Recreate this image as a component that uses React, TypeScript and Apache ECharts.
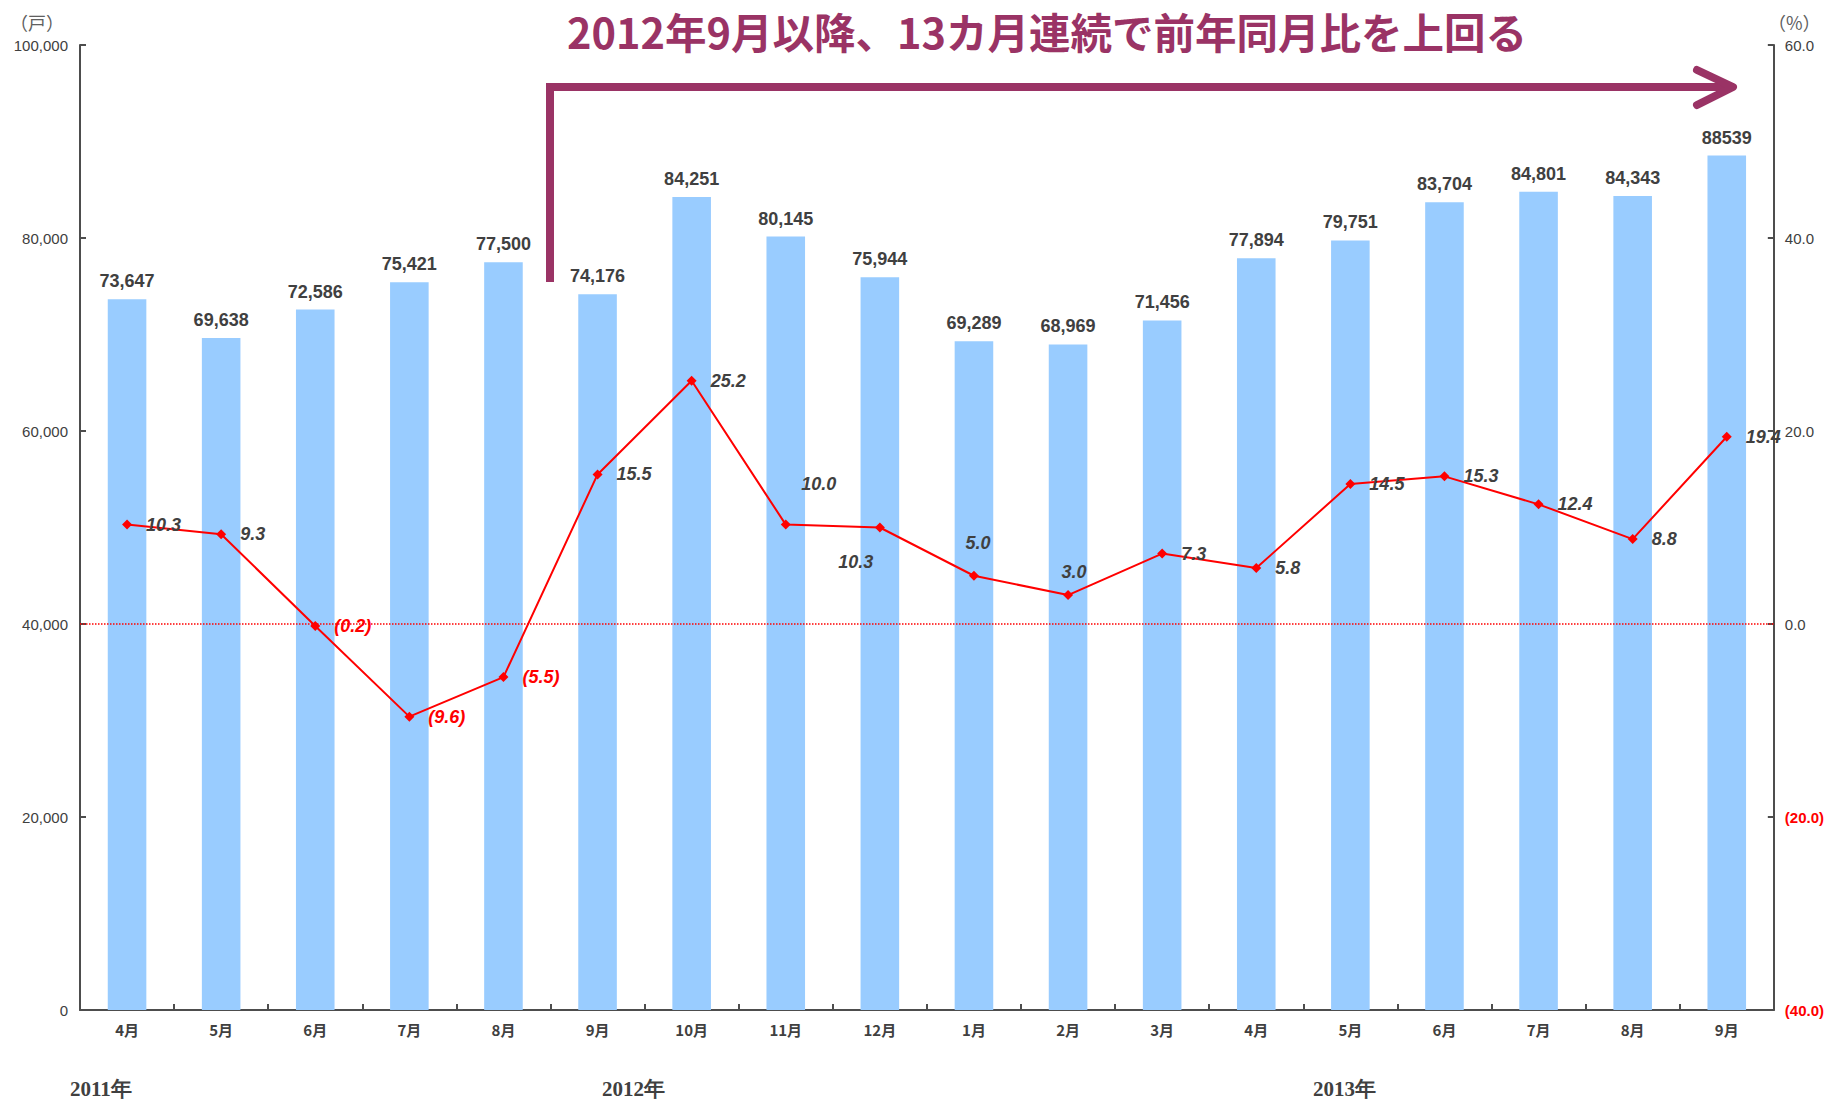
import React, { useEffect, useRef } from 'react';
import * as echarts from 'echarts';

const months = ['4月', '5月', '6月', '7月', '8月', '9月', '10月', '11月', '12月', '1月', '2月', '3月', '4月', '5月', '6月', '7月', '8月', '9月'];
const units = [73647, 69638, 72586, 75421, 77500, 74176, 84251, 80145, 75944, 69289, 68969, 71456, 77894, 79751, 83704, 84801, 84343, 88539];
const yoy = [10.3, 9.3, -0.2, -9.6, -5.5, 15.5, 25.2, 10.3, 10.0, 5.0, 3.0, 7.3, 5.8, 14.5, 15.3, 12.4, 8.8, 19.4];
const leftAxis = { min: 0, max: 100000, interval: 20000 };
const rightAxis = { min: -40, max: 60, interval: 20 };
const titleText = '2012年9月以降、13カ月連続で前年同月比を上回る';
const yearLabels = ['2011年', '2012年', '2013年'];
const leftUnit = '（戸）';
const rightUnit = '（%）';

// label placement overrides for the YoY line (style, not data)
const lineLabelOverrides: Record<number, any> = {
  7: { position: 'inside', offset: [70, 37] },
  8: { position: 'inside', offset: [-61, -44] },
  9: { position: 'inside', offset: [4, -33] },
  10: { position: 'inside', offset: [6, -23] },
};

const GRAY = '#404040';
const AXIS = '#4d4d4d';
const NUM_FONT = '"Liberation Sans", Arial, sans-serif';
const JP_FONT = '"Noto Sans CJK JP", sans-serif';

export default function App() {
  const ref = useRef<HTMLDivElement>(null);
  useEffect(() => {
    if (!ref.current) return;
    const chart = echarts.init(ref.current, null, { renderer: 'svg' });
    const fmtPct = (v: number) => (v < 0 ? `(${Math.abs(v).toFixed(1)})` : v.toFixed(1));
    const option: any = {
      animation: false,
      backgroundColor: '#ffffff',
      grid: { left: 80, right: 53, top: 45, bottom: 90, containLabel: false },
      xAxis: {
        type: 'category',
        data: months,
        boundaryGap: true,
        axisLine: { show: true, lineStyle: { color: AXIS, width: 2 } },
        axisTick: { show: true, inside: true, length: 6, lineStyle: { color: AXIS, width: 2 } },
        axisLabel: { color: GRAY, fontSize: 15, fontWeight: 'bold', fontFamily: JP_FONT, margin: 12, interval: 0 },
        splitLine: { show: false },
      },
      yAxis: [
        {
          type: 'value',
          min: leftAxis.min,
          max: leftAxis.max,
          interval: leftAxis.interval,
          axisLine: { show: true, lineStyle: { color: AXIS, width: 2 } },
          axisTick: { show: true, inside: true, length: 6, lineStyle: { color: AXIS, width: 2 } },
          axisLabel: {
            color: GRAY,
            fontSize: 15,
            fontFamily: NUM_FONT,
            margin: 12,
            formatter: (v: number) => v.toLocaleString('en-US'),
          },
          splitLine: { show: false },
        },
        {
          type: 'value',
          position: 'right',
          min: rightAxis.min,
          max: rightAxis.max,
          interval: rightAxis.interval,
          axisLine: { show: true, lineStyle: { color: AXIS, width: 2 } },
          axisTick: { show: true, inside: true, length: 6, lineStyle: { color: AXIS, width: 2 } },
          axisLabel: {
            margin: 11,
            formatter: (v: number) => (v < 0 ? `{neg|${fmtPct(v)}}` : `{pos|${fmtPct(v)}}`),
            rich: {
              neg: { color: '#ff0000', fontSize: 15, fontFamily: NUM_FONT, fontWeight: 'bold' },
              pos: { color: GRAY, fontSize: 15, fontFamily: NUM_FONT },
            },
          },
          splitLine: { show: false },
        },
      ],
      series: [
        {
          type: 'bar',
          yAxisIndex: 0,
          data: units,
          barWidth: '41%',
          itemStyle: { color: '#99ccff' },
          label: {
            show: true,
            position: 'top',
            distance: 9,
            color: GRAY,
            fontSize: 18,
            fontWeight: 'bold',
            fontFamily: NUM_FONT,
            formatter: (p: any) =>
              p.dataIndex === units.length - 1 ? String(p.value) : Number(p.value).toLocaleString('en-US'),
          },
        },
        {
          type: 'line',
          yAxisIndex: 1,
          data: yoy.map((v, i) => ({ value: v, label: lineLabelOverrides[i] })),
          symbol: 'diamond',
          symbolSize: 10,
          lineStyle: { color: '#ff0000', width: 2 },
          itemStyle: { color: '#ff0000' },
          label: {
            show: true,
            position: 'right',
            distance: 14,
            formatter: (p: any) => {
              const v = Number(p.value);
              return v < 0 ? `{neg|${fmtPct(v)}}` : `{pos|${fmtPct(v)}}`;
            },
            rich: {
              neg: { color: '#ff0000', fontSize: 18, fontWeight: 'bold', fontStyle: 'italic', fontFamily: NUM_FONT },
              pos: { color: GRAY, fontSize: 18, fontWeight: 'bold', fontStyle: 'italic', fontFamily: NUM_FONT },
            },
          },
          markLine: {
            silent: true,
            symbol: 'none',
            label: { show: false },
            lineStyle: { color: '#ff0000', type: 'dotted', width: 1.5 },
            data: [{ yAxis: 0 }],
          },
          z: 5,
        },
      ],
      graphic: [
        {
          type: 'text',
          left: 567,
          top: 10,
          style: {
            text: titleText,
            fill: '#9a3365',
            fontSize: 41.5,
            fontWeight: 'bold',
            fontFamily: JP_FONT,
          },
        },
        {
          type: 'polyline',
          shape: { points: [[550, 282], [550, 87], [1731, 87]] },
          style: { stroke: '#9a3365', lineWidth: 8, fill: 'none', lineJoin: 'miter' },
        },
        {
          type: 'polyline',
          shape: { points: [[1697, 70], [1733, 87], [1697, 105]] },
          style: { stroke: '#9a3365', lineWidth: 8, fill: 'none', lineCap: 'round', lineJoin: 'round' },
        },
        {
          type: 'text',
          x: 10,
          y: 22,
          style: {
            text: leftUnit,
            fill: '#606060',
            fontSize: 18,
            fontFamily: JP_FONT,
            align: 'left',
            verticalAlign: 'middle',
            textAlign: 'left',
            textVerticalAlign: 'middle',
          },
        },
        {
          type: 'text',
          x: 1768,
          y: 22,
          style: {
            text: rightUnit,
            fill: '#606060',
            fontSize: 18,
            fontFamily: JP_FONT,
            align: 'left',
            verticalAlign: 'middle',
            textAlign: 'left',
            textVerticalAlign: 'middle',
          },
        },
        ...yearLabels.map((t, i) => ({
          type: 'text',
          x: [70, 602, 1313][i],
          y: 1089,
          style: {
            text: t,
            fill: GRAY,
            fontSize: 21,
            fontWeight: 'bold',
            fontFamily: '"Liberation Serif", "DejaVu Serif", serif',
            align: 'left',
            verticalAlign: 'middle',
            textAlign: 'left',
            textVerticalAlign: 'middle',
          },
        })),
      ],
    };
    chart.setOption(option);
    return () => chart.dispose();
  }, []);
  return <div ref={ref} style={{ position: 'fixed', left: 0, top: 0, width: 1827, height: 1100 }} />;
}
